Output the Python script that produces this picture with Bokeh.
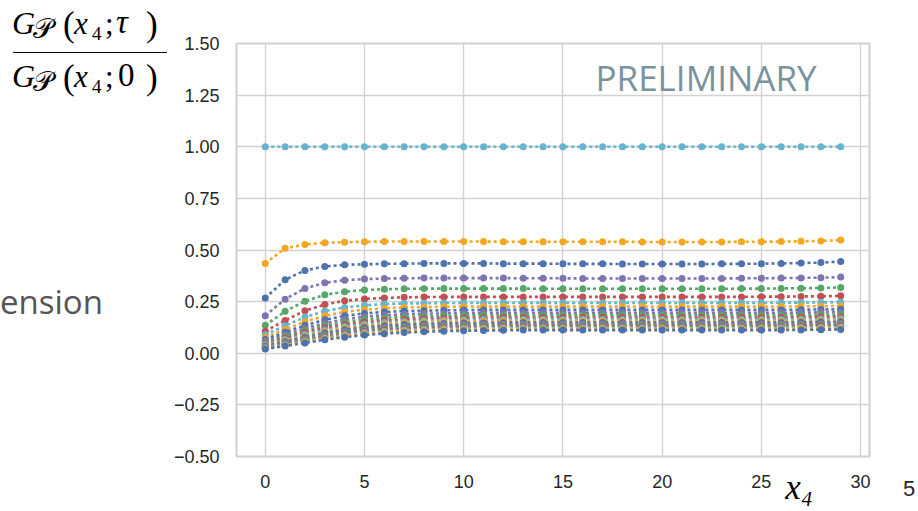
from bokeh.plotting import figure
from bokeh.models import (FixedTicker, Label, Range1d, CustomJSTickFormatter,
                          LinearAxis, Div)
from bokeh.layouts import row
from bokeh.embed import file_html
from bokeh.resources import INLINE

# ---------------- data ----------------
x4 = [0, 1, 2, 3, 4, 5, 6, 7, 8, 9, 10, 11, 12, 13, 14, 15, 16, 17, 18, 19,
      20, 21, 22, 23, 24, 25, 26, 27, 28, 29]

x_ticks = [0, 5, 10, 15, 20, 25, 30]
y_ticks = [-0.5, -0.25, 0.0, 0.25, 0.5, 0.75, 1.0, 1.25, 1.5]

tau_00 = [1.000, 1.000, 1.000, 1.000, 1.000, 1.000, 1.000, 1.000, 1.000, 1.000,
          1.000, 1.000, 1.000, 1.000, 1.000, 1.000, 1.000, 1.000, 1.000, 1.000,
          1.000, 1.000, 1.000, 1.000, 1.000, 1.000, 1.000, 1.000, 1.000, 1.000]
tau_01 = [0.435, 0.508, 0.527, 0.535, 0.538, 0.540, 0.541, 0.541, 0.541, 0.541,
          0.541, 0.541, 0.540, 0.540, 0.540, 0.540, 0.540, 0.540, 0.540, 0.539,
          0.539, 0.539, 0.539, 0.539, 0.540, 0.540, 0.541, 0.542, 0.544, 0.548]
tau_02 = [0.267, 0.356, 0.401, 0.420, 0.428, 0.431, 0.433, 0.434, 0.435, 0.435,
          0.435, 0.435, 0.434, 0.434, 0.434, 0.433, 0.433, 0.433, 0.432, 0.432,
          0.432, 0.432, 0.432, 0.433, 0.433, 0.434, 0.435, 0.437, 0.439, 0.444]
tau_03 = [0.182, 0.262, 0.314, 0.341, 0.354, 0.359, 0.362, 0.363, 0.364, 0.364,
          0.364, 0.364, 0.364, 0.363, 0.363, 0.363, 0.362, 0.362, 0.362, 0.362,
          0.362, 0.362, 0.362, 0.362, 0.363, 0.363, 0.364, 0.365, 0.366, 0.369]
tau_04 = [0.135, 0.203, 0.252, 0.283, 0.298, 0.306, 0.310, 0.312, 0.313, 0.313,
          0.313, 0.313, 0.313, 0.313, 0.312, 0.312, 0.312, 0.312, 0.312, 0.312,
          0.312, 0.312, 0.312, 0.312, 0.313, 0.313, 0.314, 0.315, 0.316, 0.319]
tau_05 = [0.107, 0.159, 0.206, 0.236, 0.254, 0.263, 0.268, 0.271, 0.272, 0.273,
          0.273, 0.273, 0.273, 0.273, 0.273, 0.273, 0.273, 0.273, 0.273, 0.273,
          0.273, 0.273, 0.273, 0.273, 0.273, 0.274, 0.274, 0.275, 0.276, 0.278]
tau_06 = [0.090, 0.133, 0.175, 0.204, 0.222, 0.232, 0.238, 0.241, 0.242, 0.243,
          0.244, 0.244, 0.244, 0.244, 0.244, 0.244, 0.244, 0.244, 0.244, 0.244,
          0.244, 0.244, 0.244, 0.244, 0.244, 0.244, 0.245, 0.245, 0.246, 0.247]
tau_07 = [0.076, 0.115, 0.153, 0.181, 0.201, 0.211, 0.217, 0.222, 0.223, 0.225,
          0.226, 0.226, 0.226, 0.226, 0.226, 0.226, 0.226, 0.226, 0.226, 0.226,
          0.226, 0.226, 0.226, 0.226, 0.226, 0.226, 0.226, 0.227, 0.228, 0.229]
tau_08 = [0.066, 0.102, 0.135, 0.162, 0.181, 0.193, 0.200, 0.204, 0.206, 0.208,
          0.209, 0.210, 0.210, 0.210, 0.210, 0.210, 0.210, 0.210, 0.210, 0.210,
          0.210, 0.210, 0.210, 0.210, 0.210, 0.210, 0.210, 0.211, 0.212, 0.213]
tau_09 = [0.058, 0.090, 0.121, 0.146, 0.164, 0.177, 0.184, 0.189, 0.192, 0.193,
          0.195, 0.196, 0.196, 0.196, 0.196, 0.196, 0.196, 0.196, 0.196, 0.196,
          0.196, 0.196, 0.196, 0.196, 0.196, 0.196, 0.196, 0.197, 0.198, 0.199]
tau_10 = [0.052, 0.081, 0.110, 0.134, 0.151, 0.163, 0.171, 0.176, 0.179, 0.181,
          0.183, 0.184, 0.184, 0.184, 0.184, 0.184, 0.184, 0.184, 0.184, 0.184,
          0.184, 0.184, 0.184, 0.184, 0.184, 0.184, 0.184, 0.185, 0.186, 0.187]
tau_11 = [0.047, 0.073, 0.100, 0.123, 0.139, 0.150, 0.159, 0.164, 0.167, 0.170,
          0.171, 0.172, 0.173, 0.173, 0.173, 0.173, 0.173, 0.173, 0.173, 0.173,
          0.173, 0.173, 0.173, 0.173, 0.173, 0.173, 0.173, 0.174, 0.175, 0.176]
tau_12 = [0.042, 0.066, 0.091, 0.113, 0.129, 0.141, 0.149, 0.154, 0.158, 0.160,
          0.162, 0.163, 0.164, 0.164, 0.164, 0.164, 0.164, 0.164, 0.164, 0.164,
          0.164, 0.164, 0.164, 0.164, 0.164, 0.164, 0.164, 0.165, 0.166, 0.167]
tau_13 = [0.038, 0.060, 0.084, 0.104, 0.121, 0.132, 0.141, 0.146, 0.150, 0.152,
          0.154, 0.155, 0.156, 0.156, 0.156, 0.156, 0.156, 0.156, 0.156, 0.156,
          0.156, 0.156, 0.156, 0.156, 0.156, 0.156, 0.156, 0.157, 0.158, 0.159]
tau_14 = [0.035, 0.056, 0.078, 0.098, 0.114, 0.125, 0.133, 0.139, 0.142, 0.144,
          0.146, 0.147, 0.148, 0.149, 0.149, 0.149, 0.149, 0.149, 0.149, 0.149,
          0.149, 0.149, 0.149, 0.149, 0.149, 0.149, 0.149, 0.150, 0.151, 0.152]
tau_15 = [0.032, 0.051, 0.073, 0.091, 0.107, 0.118, 0.126, 0.131, 0.135, 0.138,
          0.139, 0.140, 0.141, 0.142, 0.142, 0.142, 0.142, 0.142, 0.142, 0.142,
          0.142, 0.142, 0.142, 0.142, 0.142, 0.142, 0.142, 0.143, 0.144, 0.145]
tau_16 = [0.029, 0.047, 0.068, 0.086, 0.101, 0.111, 0.119, 0.125, 0.129, 0.131,
          0.133, 0.134, 0.135, 0.136, 0.136, 0.136, 0.136, 0.136, 0.136, 0.136,
          0.136, 0.136, 0.136, 0.136, 0.136, 0.136, 0.136, 0.137, 0.138, 0.139]
tau_17 = [0.027, 0.044, 0.063, 0.081, 0.095, 0.106, 0.113, 0.119, 0.122, 0.125,
          0.127, 0.128, 0.129, 0.130, 0.130, 0.130, 0.130, 0.130, 0.130, 0.130,
          0.130, 0.130, 0.130, 0.130, 0.130, 0.130, 0.130, 0.131, 0.132, 0.133]
tau_18 = [0.025, 0.041, 0.059, 0.075, 0.089, 0.100, 0.107, 0.113, 0.116, 0.119,
          0.121, 0.122, 0.123, 0.124, 0.124, 0.124, 0.124, 0.124, 0.124, 0.124,
          0.124, 0.124, 0.124, 0.124, 0.124, 0.124, 0.124, 0.125, 0.126, 0.127]
tau_19 = [0.023, 0.038, 0.054, 0.070, 0.084, 0.094, 0.101, 0.107, 0.110, 0.113,
          0.115, 0.116, 0.117, 0.118, 0.118, 0.118, 0.118, 0.118, 0.118, 0.118,
          0.118, 0.118, 0.118, 0.118, 0.118, 0.118, 0.118, 0.119, 0.120, 0.121]
tau_20 = [0.021, 0.035, 0.050, 0.065, 0.078, 0.088, 0.095, 0.100, 0.104, 0.107,
          0.109, 0.110, 0.111, 0.112, 0.112, 0.112, 0.112, 0.112, 0.112, 0.112,
          0.112, 0.112, 0.112, 0.112, 0.112, 0.112, 0.112, 0.113, 0.114, 0.115]

series = [tau_00, tau_01, tau_02, tau_03, tau_04, tau_05, tau_06, tau_07,
          tau_08, tau_09, tau_10, tau_11, tau_12, tau_13, tau_14, tau_15,
          tau_16, tau_17, tau_18, tau_19, tau_20]

palette = ["#64B5CD", "#F5A623", "#4C72B0", "#8172B2", "#55A868", "#C44E52"]

x_label_pos = 26.9     # where the x-axis title sits along the axis

# ---------------- layout geometry (page pixels) ----------------
PAGE_W, PAGE_H = 918, 511
LEFT_W = 168            # left text column
RIGHT_W = 23            # right text column
FIG_W = PAGE_W - LEFT_W - RIGHT_W
FL, FR, FT, FB = 236, 869, 43, 456   # plot frame edges on the page

p = figure(width=FIG_W, height=PAGE_H, output_backend="svg",
           toolbar_location=None,
           x_range=Range1d(-1.45, 30.45), y_range=Range1d(-0.5, 1.5),
           min_border_left=FL - LEFT_W, min_border_right=LEFT_W + FIG_W - FR,
           min_border_top=FT, min_border_bottom=PAGE_H - FB)

p.background_fill_color = "white"
p.border_fill_color = "white"
p.outline_line_color = "#cfcfcf"
p.outline_line_width = 2

p.xgrid.grid_line_color = "#d2d2d2"
p.ygrid.grid_line_color = "#d2d2d2"
p.xgrid.grid_line_width = 1.4
p.ygrid.grid_line_width = 1.4

xax = p.xaxis[0]
yax = p.yaxis[0]
xax.ticker = FixedTicker(ticks=x_ticks)
yax.ticker = FixedTicker(ticks=y_ticks)
p.xgrid.ticker = FixedTicker(ticks=x_ticks)
p.ygrid.ticker = FixedTicker(ticks=y_ticks)
yax.formatter = CustomJSTickFormatter(
    code="return tick.toFixed(2).replace('-', '\u2212');")

for ax in (xax, yax):
    ax.axis_line_color = None
    ax.major_tick_line_color = None
    ax.minor_tick_line_color = None
    ax.major_tick_out = 0
    ax.major_tick_in = 0
    ax.minor_tick_out = 0
    ax.major_label_text_font = "Liberation Sans"
    ax.major_label_text_font_size = "18px"
    ax.major_label_text_color = "#262626"
yax.major_label_standoff = 17
xax.major_label_standoff = 18

# x-axis title "x4", placed along the axis near its right end
xtitle = LinearAxis(ticker=FixedTicker(ticks=[x_label_pos]),
                    major_label_overrides={x_label_pos: "x₄"},
                    axis_line_color=None, major_tick_line_color=None,
                    minor_tick_line_color=None, major_tick_out=0,
                    major_tick_in=0, minor_tick_out=0,
                    major_label_standoff=-23,
                    major_label_text_font="Liberation Serif",
                    major_label_text_font_style="italic",
                    major_label_text_font_size="35px",
                    major_label_text_color="black")
p.add_layout(xtitle, "below")

for i, ys in enumerate(series):
    c = palette[i % len(palette)]
    p.line(x4, ys, line_color=c, line_width=2.6, line_dash="3 3")
    p.scatter(x4, ys, size=7, fill_color=c, line_color=c, line_width=0)

p.add_layout(Label(x=595 - FL, y=FB - 77, x_units="screen", y_units="screen",
                   text="PRELIMINARY", text_font="Open Sans",
                   text_font_size="35px", text_color="#7a929e",
                   text_align="left", text_baseline="alphabetic"))


# ---------------- texts outside the plot (HTML columns) ----------------
ASC = {"Liberation Serif": 0.8375, "Open Sans": 0.888,
       "Liberation Sans": 0.8465, "DejaVu Serif": 0.846}


def piece(text, X, base, size, font="Liberation Serif", italic=False,
          color="black"):
    top = base - ASC.get(font, 0.84) * size
    style = ("position:absolute;white-space:nowrap;"
             f"left:{X}px;top:{top:.1f}px;font-size:{size}px;"
             f"line-height:{size}px;font-family:'{font}',serif;color:{color};"
             f"font-style:{'italic' if italic else 'normal'};")
    return f'<span style="{style}">{text}</span>'


def frac_line(base, last, last_italic, last_x):
    return "".join([
        piece("G", 12, base, 32, italic=True),
        piece("𝒫", 33, base + 5, 28, font="DejaVu Serif"),
        piece("(", 63, base + 2, 35),
        piece("x", 74, base, 31, italic=True),
        piece("4", 92, base + 6, 19),
        piece(";", 105, base, 31),
        piece(last, last_x, base, 33, italic=last_italic),
        piece(")", 146, base + 2, 35),
    ])


left_html = ('<div style="position:relative;width:%dpx;height:%dpx;">' % (LEFT_W, PAGE_H)
             + frac_line(34, "τ", True, 116)
             + '<div style="position:absolute;left:13px;top:52px;width:154px;'
               'height:0;border-top:1.5px solid black;"></div>'
             + frac_line(87, "0", False, 118)
             + piece("ension", 0, 314, 33, font="Open Sans", color="#555555")
             + '</div>')

right_html = ('<div style="position:relative;width:%dpx;height:%dpx;">' % (RIGHT_W, PAGE_H)
              + piece("5", 903 - LEFT_W - FIG_W, 497, 22, font="Liberation Sans",
                      color="#262626")
              + '</div>')

left_div = Div(text=left_html, width=LEFT_W, height=PAGE_H, margin=(0, 0, 0, 0))
right_div = Div(text=right_html, width=RIGHT_W, height=PAGE_H, margin=(0, 0, 0, 0))

page = row(left_div, p, right_div, spacing=0)

open("out.html", "w").write(file_html(page, INLINE))
